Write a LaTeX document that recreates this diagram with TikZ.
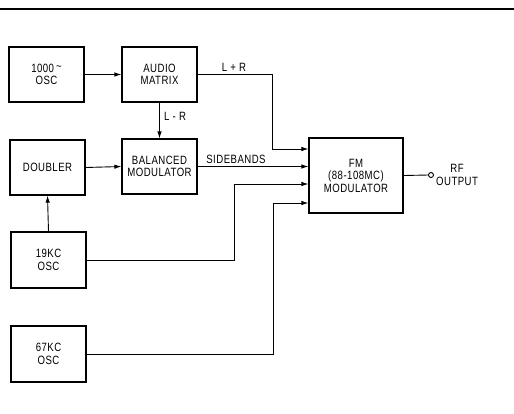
\documentclass[tikz,border=0pt]{standalone}
\usepackage{fontspec}
\setmainfont{Liberation Sans}[LetterSpace=4,FakeStretch=0.8]
\usetikzlibrary{arrows.meta}
\begin{document}
\begin{tikzpicture}[x=1pt,y=-1pt,
  blk/.style={draw, line width=1.1pt, minimum width=75pt, minimum height=55pt, align=center, inner sep=0pt, font=\fontsize{12}{12.5}\selectfont},
  lbl/.style={font=\fontsize{12}{12.5}\selectfont, inner sep=0pt, align=center},
  wire/.style={line width=0.9pt},
  arr/.style={wire, -{Latex[length=7pt,width=4.5pt]}}]
\useasboundingbox (0,0) rectangle (514,413);
\draw[line width=2pt] (0,9) -- (514,9);
% blocks
\node[blk] (osc1000) at (46.5,74.5) {1000\,\raisebox{0.35ex}{\textasciitilde}\\OSC};
\node[blk] (matrix) at (159.5,74.5) {AUDIO\\MATRIX};
\node[blk] (doubler) at (47.5,167.5) {DOUBLER};
\node[blk] (balmod) at (159.5,166.5) {BALANCED\\MODULATOR};
\node[blk, minimum width=94pt, minimum height=75pt] (fm) at (356,175.5) {FM\\(88-108MC)\\MODULATOR};
\node[blk, minimum height=56pt] (osc19) at (48.5,260) {19KC\\OSC};
\node[blk, minimum height=56pt] (osc67) at (48.5,354) {67KC\\OSC};
\node[draw, circle, line width=0.9pt, inner sep=0pt, minimum size=5pt] (rfout) at (431,175) {};
\node[lbl, anchor=west] (rflbl) at ([xshift=2pt]rfout.east) {RF\\OUTPUT};
% bend points
\coordinate (lrbend) at (272,149);
\coordinate (b19) at (234,184);
\coordinate (b67) at (273,203);
% connectors
\draw[arr] (osc1000.east) -- (matrix.west);
\draw[arr] (matrix.south) -- (balmod.north);
\draw[arr] (doubler.east) -- (balmod.west);
\draw[arr] (osc19.north) -- (doubler.south);
\draw[arr] (matrix.east) -| (lrbend) -- (lrbend -| fm.west);
\draw[arr] (balmod.east) -- (balmod.east -| fm.west);
\draw[arr] (osc19.east) -| (b19) -- (b19 -| fm.west);
\draw[arr] (osc67.east) -| (b67) -- (b67 -| fm.west);
\draw[wire] (fm.east) -- (rfout.west);
% labels
\node[lbl] (lplusr) at (234,67) {L + R};
\node[lbl, anchor=west] (lminusr) at (164,116) {L - R};
\node[lbl] (sb) at (236,159) {SIDEBANDS};
\end{tikzpicture}
\end{document}
